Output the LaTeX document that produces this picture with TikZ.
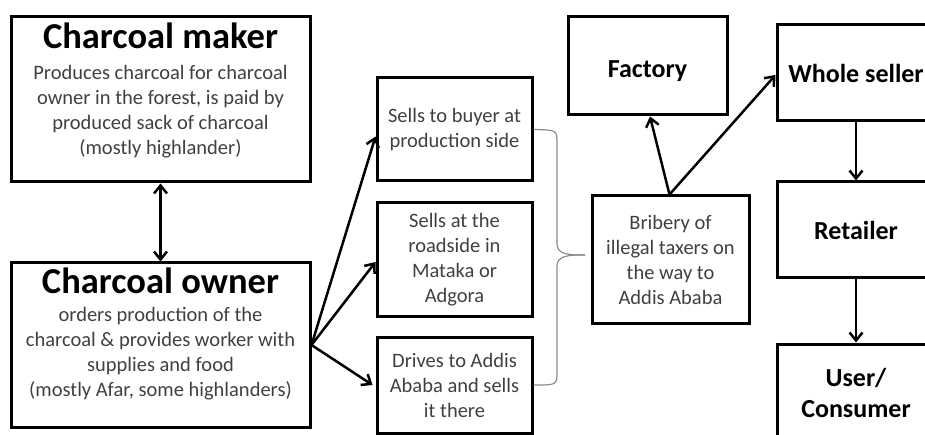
\documentclass[tikz,border=0pt]{standalone}
\usepackage{fontspec}
\setmainfont{Carlito}
\usetikzlibrary{arrows.meta,calc}
\definecolor{bodygrey}{HTML}{404040}
\definecolor{bracegrey}{HTML}{8C8C8C}
\newcommand{\bigtitle}{\fontsize{36.5}{40}\selectfont\bfseries}
\newcommand{\midtitle}{\fontsize{26}{31}\selectfont\bfseries}
\newcommand{\bodytxt}{\fontsize{20.5}{25}\selectfont}
\tikzset{
  box/.style={draw=black, line width=3pt, rectangle, inner sep=0pt, align=center},
  bodybox/.style={box, font=\bodytxt, text=bodygrey},
  titlebox/.style={box, font=\midtitle, text=black},
  conn/.style={line width=2.5pt, -{Straight Barb[length=8pt,width=13pt,line width=2.5pt]}},
  dconn/.style={line width=2.5pt, {Straight Barb[length=8pt,width=13pt,line width=2.5pt]}-{Straight Barb[length=8pt,width=13pt,line width=2.5pt]}},
  bracestyle/.style={draw=bracegrey, line width=1.2pt}
}
\begin{document}
\begin{tikzpicture}[x=1pt,y=-1pt]
\useasboundingbox (0,0) rectangle (925,435);
% left column
\node[box, minimum width=299pt, minimum height=165pt] (maker) at (160.5,99.5)
  {\parbox[c][165pt][t]{299pt}{\centering\vspace*{6pt}{\bigtitle Charcoal maker\par}\vspace{6pt}{\bodytxt\color{bodygrey}Produces charcoal for charcoal\\owner in the forest, is paid by\\produced sack of charcoal\\(mostly highlander)\par}}};
\node[box, minimum width=299pt, minimum height=164pt] (owner) at (160.5,345)
  {\parbox[c][164pt][t]{299pt}{\centering\vspace*{5pt}{\bigtitle Charcoal owner\par}\vspace{3pt}{\bodytxt\color{bodygrey}orders production of the\\charcoal \& provides worker with\\supplies and food\\(mostly Afar, some highlanders)\par}}};
% middle column
\node[bodybox, minimum width=155pt, minimum height=103pt] (b1) at (454.5,129.5)
  {Sells to buyer at\\production side};
\node[bodybox, minimum width=155pt, minimum height=113pt] (b2) at (454.5,259.5)
  {Sells at the\\roadside in\\Mataka or\\Adgora};
\node[bodybox, minimum width=155pt, minimum height=96pt] (b3) at (454.5,385)
  {Drives to Addis\\Ababa and sells\\it there};
% right part
\node[bodybox, minimum width=157pt, minimum height=127pt] (bribe) at (670.5,259.5)
  {Bribery of\\illegal taxers on\\the way to\\Addis Ababa};
\node[titlebox, minimum width=159pt, minimum height=98pt] (factory) at (647.5,66)
  {\raisebox{-12pt}[0pt][0pt]{Factory}};
\node[titlebox, minimum width=158pt, minimum height=96pt] (whole) at (856,73)
  {Whole seller};
\node[titlebox, minimum width=158pt, minimum height=96pt] (retail) at (856,230)
  {Retailer};
\node[box, minimum width=158pt, minimum height=120pt] (user) at (856,404)
  {\parbox[c][120pt][t]{158pt}{\centering\vspace*{24pt}{\midtitle User/\\Consumer\par}}};
% connectors
\draw[dconn] (maker.south) -- (owner.north);
\draw[conn] (owner.east) -- ($(b1.west)+(0,7)$);
\draw[conn] (owner.east) -- ($(b2.west)+(0,2.5)$);
\draw[conn] (owner.east) -- ($(b3.west)+(-3,0)$);
\draw[conn] ($(bribe.north)+(-1,0)$) -- ($(factory.south)+(2.5,0)$);
\draw[conn] ($(bribe.north)+(-1,0)$) -- ($(whole.west)+(0,2)$);
\draw[conn] (whole.south) -- (retail.north);
\draw[conn] (retail.south) -- (user.north);
% brace
\coordinate (tip) at (585,255);
\draw[bracestyle] (b1.east) .. controls (557,130) .. (557,143) -- (557,244)
  .. controls (557,255) and (570,255) .. (tip);
\draw[bracestyle] (tip) .. controls (570,255) and (557,255) .. (557,266) -- (557,372)
  .. controls (557,385) .. (b3.east);
\end{tikzpicture}
\end{document}
